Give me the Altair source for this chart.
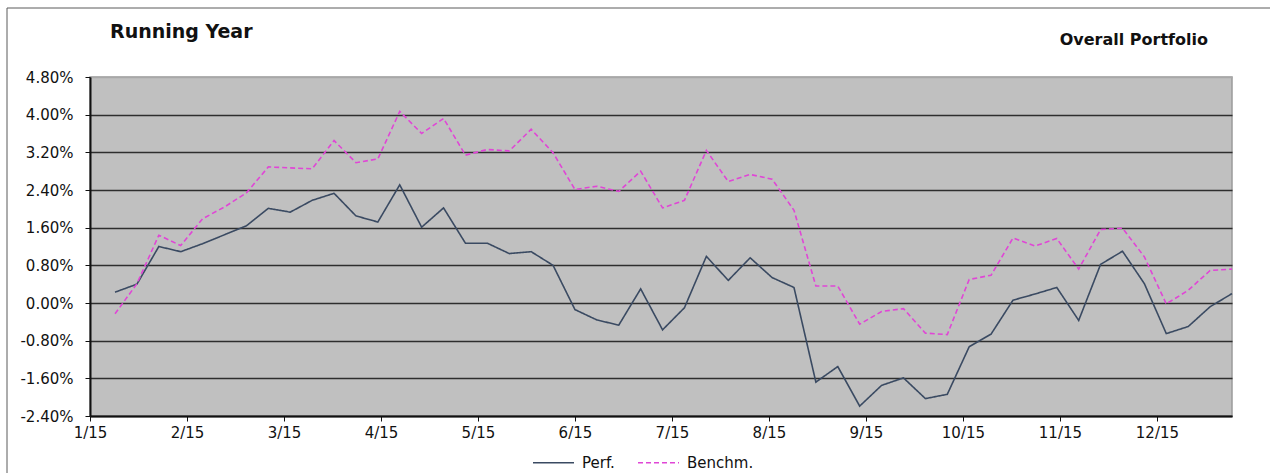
import altair as alt
import pandas as pd

# Weekly observations (Fridays), running year starting 2015-01-09
WEEK_START = "2015-01-09"

PERF = [0.23, 0.40, 1.20, 1.09, 1.26, 1.45, 1.64, 2.01, 1.93, 2.18, 2.33, 1.85, 1.72,
        2.51, 1.61, 2.02, 1.27, 1.27, 1.05, 1.09, 0.80, -0.14, -0.36, -0.47, 0.30, -0.57,
        -0.10, 0.99, 0.48, 0.96, 0.54, 0.33, -1.68, -1.35, -2.19, -1.75, -1.59, -2.03,
        -1.94, -0.93, -0.66, 0.06, 0.19, 0.33, -0.37, 0.82, 1.10, 0.41, -0.65, -0.50,
        -0.08, 0.20]

BENCH = [-0.23, 0.41, 1.44, 1.22, 1.79, 2.04, 2.34, 2.89, 2.87, 2.85, 3.45, 2.98, 3.06,
         4.07, 3.60, 3.92, 3.14, 3.26, 3.23, 3.69, 3.19, 2.41, 2.48, 2.37, 2.80, 2.02,
         2.18, 3.24, 2.58, 2.73, 2.63, 1.97, 0.36, 0.36, -0.45, -0.18, -0.12, -0.64,
         -0.67, 0.50, 0.59, 1.38, 1.21, 1.37, 0.72, 1.56, 1.59, 0.98, -0.02, 0.27,
         0.69, 0.72]

SERIES = ["Perf.", "Benchm."]
SERIES_COLORS = ["#3A4A62", "#E046D6"]
SERIES_DASH = [[1, 0], [5, 3]]

X_DOMAIN = ["2015-01-01", "2016-01-01"]
TICK_DATES = ["2015-01-01", "2015-02-01", "2015-03-04", "2015-04-04", "2015-05-05",
              "2015-06-05", "2015-07-06", "2015-08-06", "2015-09-06", "2015-10-07",
              "2015-11-07", "2015-12-08"]
Y_TICKS = [-2.4, -1.6, -0.8, 0.0, 0.8, 1.6, 2.4, 3.2, 4.0, 4.8]

FONT = "DejaVu Sans"


def utc_date(s):
    y, m, d = (int(p) for p in s.split("-"))
    return alt.DateTime(year=y, month=m, date=d, utc=True)


dates = list(pd.date_range(WEEK_START, periods=len(PERF), freq="7D").strftime("%Y-%m-%dT00:00:00Z"))
df = pd.DataFrame({
    "date": dates + dates,
    "value": PERF + BENCH,
    "series": [SERIES[0]] * len(PERF) + [SERIES[1]] * len(BENCH),
})

W, H = 1142, 339

legend = alt.Legend(
    title=None, orient="none", legendX=442, legendY=364, direction="horizontal",
    symbolType="stroke", symbolSize=1681, symbolStrokeWidth=1.6,
    labelFont=FONT, labelFontSize=15, labelColor="#111111", labelOffset=7,
    columnPadding=19, padding=0,
)

x_enc = alt.X(
    "date:T",
    scale=alt.Scale(type="utc", domain=[utc_date(X_DOMAIN[0]), utc_date(X_DOMAIN[1])]),
    axis=alt.Axis(
        values=[utc_date(s) for s in TICK_DATES], format="%-m/%y", title=None, grid=False,
        domainColor="#111111", domainWidth=2, tickColor="#111111", tickSize=5,
        labelFont=FONT, labelFontSize=15, labelColor="#111111", labelPadding=4,
        labelFlush=False, labelOverlap=False,
    ),
)

y_enc = alt.Y(
    "value:Q",
    scale=alt.Scale(domain=[Y_TICKS[0], Y_TICKS[-1]], nice=False, zero=False),
    axis=alt.Axis(
        values=Y_TICKS,
        labelExpr="(datum.value < 0 ? '-' : '') + format(abs(datum.value), '.2f') + '%'",
        title=None,
        domainColor="#111111", domainWidth=2, tickColor="#111111", tickSize=5,
        labelFont=FONT, labelFontSize=15, labelColor="#111111", labelPadding=12,
        labelFlush=False,
        gridColor={"condition": {"test": "datum.value >= 4.79", "value": "#A8A8A8"},
                   "value": "#2E2E2E"},
        gridWidth=1.5,
    ),
)

lines = alt.Chart(df).mark_line(strokeWidth=1.6).encode(
    x=x_enc,
    y=y_enc,
    color=alt.Color("series:N", scale=alt.Scale(domain=SERIES, range=SERIES_COLORS), legend=legend),
    strokeDash=alt.StrokeDash("series:N", scale=alt.Scale(domain=SERIES, range=SERIES_DASH), legend=legend),
)

# outer chart frame
frame = alt.Chart(pd.DataFrame({"k": [0]})).mark_rect(
    fillOpacity=0, stroke="#5A5A5A", strokeWidth=1
).encode(
    x=alt.value(-83), x2=alt.value(W + 120), y=alt.value(-69), y2=alt.value(H + 120)
)

title_left = alt.Chart(pd.DataFrame({"t": ["Running Year"]})).mark_text(
    align="left", baseline="alphabetic", font=FONT, fontSize=19, fontWeight="bold", color="#111111"
).encode(text="t:N", x=alt.value(20), y=alt.value(-39))

title_right = alt.Chart(pd.DataFrame({"t": ["Overall Portfolio"]})).mark_text(
    align="right", baseline="alphabetic", font=FONT, fontSize=16, fontWeight="bold", color="#111111"
).encode(text="t:N", x=alt.value(1118), y=alt.value(-32))

chart = alt.layer(frame, lines, title_left, title_right).properties(
    width=W, height=H,
    autosize=alt.AutoSizeParams(type="none"),
    padding={"left": 90, "top": 77, "right": 38, "bottom": 57},
    background="white",
).configure_view(fill="#C0C0C0", stroke="#9A9A9A", strokeWidth=1.5)

chart.save("out.html", embed_options={"renderer": "svg", "actions": False})
